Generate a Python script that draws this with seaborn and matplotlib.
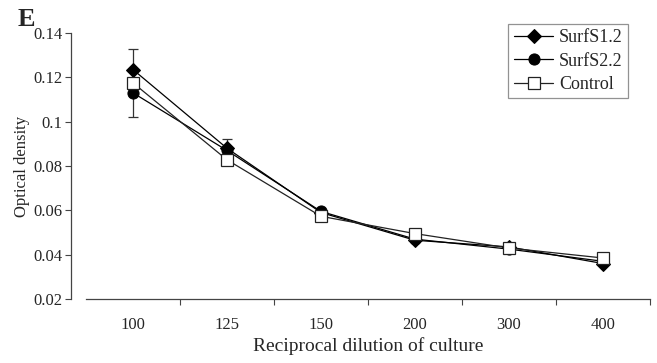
import numpy as np
import pandas as pd
import matplotlib
matplotlib.use('Agg')
import matplotlib.pyplot as plt
import seaborn as sns

# Data
dilutions = ['100', '125', '150', '200', '300', '400']
surfs12 = [0.1235, 0.0880, 0.0590, 0.0465, 0.0435, 0.0360]
surfs22 = [0.1130, 0.0870, 0.0595, 0.0470, 0.0425, 0.0370]
control = [0.1175, 0.0828, 0.0573, 0.0495, 0.0430, 0.0385]
# error bars visible in the figure (others hidden behind markers)
surfs12_err = [0.0, 0.0043, 0.0, 0.0, 0.0, 0.0]
control_err = [0.0155, 0.0, 0.0, 0.0, 0.0, 0.0]

sns.set_style('ticks')
plt.rcParams['font.family'] = ['Liberation Serif', 'DejaVu Serif']

fig = plt.figure(figsize=(6.57, 3.63), dpi=100)
ax = fig.add_axes([86 / 657, 1 - 299 / 363, 564 / 657, 266 / 363])

pos = np.arange(len(dilutions))

# error bars first, markers over them
ax.errorbar(pos, control, yerr=control_err, fmt='none', ecolor='#333333',
            elinewidth=0.9, capsize=3.5, capthick=0.9, zorder=1)
ax.errorbar(pos, surfs12, yerr=surfs12_err, fmt='none', ecolor='#333333',
            elinewidth=0.9, capsize=3.5, capthick=0.9, zorder=1)

sns.lineplot(x=pos, y=surfs12, ax=ax, color='black', lw=0.9, marker='D',
             markersize=7, markerfacecolor='black', markeredgecolor='black',
             label='SurfS1.2', zorder=3)
sns.lineplot(x=pos, y=surfs22, ax=ax, color='black', lw=0.9, marker='o',
             markersize=8, markerfacecolor='black', markeredgecolor='black',
             label='SurfS2.2', zorder=3)
sns.lineplot(x=pos, y=control, ax=ax, color='#222222', lw=0.9, marker='s',
             markersize=9, markerfacecolor='white', markeredgecolor='#222222',
             markeredgewidth=0.9, label='Control', zorder=4)

ax.set_xlim(-0.5, len(dilutions) - 0.5)
ax.set_ylim(0.02, 0.14)
ax.set_yticks([0.02, 0.04, 0.06, 0.08, 0.1, 0.12, 0.14])
ax.set_yticklabels(['0.02', '0.04', '0.06', '0.08', '0.1', '0.12', '0.14'])
ax.set_xticks(pos)
ax.set_xticklabels(dilutions)
ax.set_xticks(np.arange(0.5, len(dilutions), 1.0), minor=True)
ax.tick_params(axis='x', which='major', length=0, pad=13, labelsize=12)
ax.tick_params(axis='x', which='minor', length=4, width=0.8, color='#444444')
ax.tick_params(axis='y', length=4, width=0.8, color='#444444', labelsize=12, pad=2)

for s in ['top', 'right']:
    ax.spines[s].set_visible(False)
ax.spines['left'].set_position(('outward', 11))
ax.spines['left'].set_color('#444444')
ax.spines['bottom'].set_color('#444444')
ax.spines['left'].set_linewidth(0.9)
ax.spines['bottom'].set_linewidth(0.9)

ax.set_xlabel('Reciprocal dilution of culture', fontsize=14, labelpad=3)
ax.set_ylabel('Optical density', fontsize=12, labelpad=2)

leg = ax.legend(loc='upper right', bbox_to_anchor=(0.961, 1.034), borderaxespad=0,
                fontsize=13, handlelength=2.2, handletextpad=0.3, labelspacing=0.35,
                fancybox=False, frameon=True, edgecolor='#777777', borderpad=0.3)
leg.get_frame().set_linewidth(0.9)

fig.text(18 / 657, 1 - 19 / 363, 'E', fontsize=19, fontweight='bold',
         ha='left', va='center')

fig.savefig('out.png', dpi=100)
